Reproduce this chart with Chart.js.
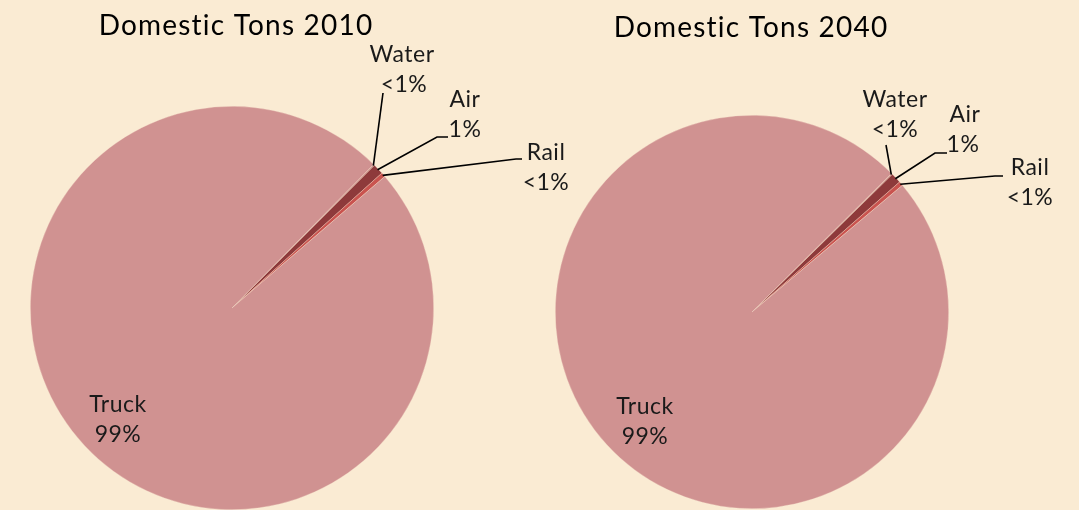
<!DOCTYPE html>
<html lang="en">
<head>
    <meta charset="UTF-8">
    <title>Domestic Tons</title>
    <script src="https://cdn.jsdelivr.net/npm/chart.js"></script>
    <style>
        body { margin: 0; background: #faebd3; }
        #wrap { position: relative; width: 1079px; height: 510px; overflow: hidden; }
        .box { position: absolute; top: 0; height: 510px; }
    </style>
</head>
<body>
<div id="wrap">
    <div class="box" style="left:0;width:620px"><canvas id="pie2010"></canvas></div>
    <div class="box" style="left:540px;width:539px"><canvas id="pie2040"></canvas></div>
</div>
<script>
    // modes, in drawing order (clockwise from the start angle)
    const modes = ['Water', 'Air', 'Rail', 'Truck'];
    const share2010 = [0.1, 0.85, 0.35, 98.7];
    const share2040 = [0.1, 0.85, 0.35, 98.7];
    const labels2010 = ['<1%', '1%', '<1%', '99%'];
    const labels2040 = ['<1%', '1%', '<1%', '99%'];
    const colors = ['#c98a86', '#8e3a3b', '#c9534f', '#d09291'];

    // leader line layout, offsets from the pie centre
    const callouts2010 = [
        { elbow: null, end: [151, -215], text: [170, -253], pct: [172, -223] },
        { elbow: [205, -171], end: [216, -171], text: [233, -208], pct: [233, -178] },
        { elbow: [284, -149], end: [290, -149], text: [314, -155], pct: [314, -125] },
        { inside: true, text: [-114, 97], pct: [-114, 127] }
    ];
    const callouts2040 = [
        { elbow: null, end: [134, -167], text: [143, -212], pct: [143, -182] },
        { elbow: [183, -159], end: [195, -159], text: [213, -197], pct: [211, -167] },
        { elbow: [243, -136], end: [251, -136], text: [278, -144], pct: [278, -114] },
        { inside: true, text: [-107, 95], pct: [-107, 125] }
    ];

    const calloutPlugin = {
        id: 'callouts',
        afterDraw(chart, args, opts) {
            const ctx = chart.ctx;
            const arcs = chart.getDatasetMeta(0).data;
            const cx = arcs[0].x, cy = arcs[0].y;
            ctx.save();
            ctx.font = '23px Lato';
            ctx.letterSpacing = '0.5px';
            ctx.fillStyle = '#1a1a1a';
            ctx.strokeStyle = '#000';
            ctx.lineWidth = 1.6;
            ctx.textAlign = 'center';
            ctx.textBaseline = 'middle';
            opts.items.forEach((c, i) => {
                if (!c.inside) {
                    const a = arcs[i];
                    const mid = (a.startAngle + a.endAngle) / 2;
                    const sx = cx + Math.cos(mid) * (a.outerRadius - 1);
                    const sy = cy + Math.sin(mid) * (a.outerRadius - 1);
                    ctx.beginPath();
                    ctx.moveTo(sx, sy);
                    if (c.elbow) ctx.lineTo(cx + c.elbow[0], cy + c.elbow[1]);
                    ctx.lineTo(cx + c.end[0], cy + c.end[1]);
                    ctx.stroke();
                }
                ctx.fillText(modes[i], cx + c.text[0], cy + c.text[1]);
                ctx.fillText(opts.pcts[i], cx + c.pct[0], cy + c.pct[1]);
            });
            ctx.font = '28px Lato';
            ctx.letterSpacing = '1.2px';
            ctx.fillStyle = '#000';
            ctx.fillText(opts.title, cx + opts.titleOffset[0], opts.titleOffset[1]);
            ctx.restore();
        }
    };

    function makePie(id, values, pcts, items, rotation, padding, title, titleOffset) {
        return new Chart(document.getElementById(id), {
            type: 'pie',
            data: {
                labels: modes,
                datasets: [{
                    data: values,
                    backgroundColor: colors,
                    borderColor: 'rgba(250,235,211,0.5)',
                    borderWidth: 0.6
                }]
            },
            options: {
                responsive: true,
                maintainAspectRatio: false,
                animation: false,
                rotation: rotation,
                layout: { padding: padding },
                plugins: {
                    legend: { display: false },
                    tooltip: { enabled: false },
                    callouts: { items: items, pcts: pcts, title: title, titleOffset: titleOffset }
                }
            },
            plugins: [calloutPlugin]
        });
    }

    makePie('pie2010', share2010, labels2010, callouts2010, 44.6,
        { left: 30, right: 186, top: 106, bottom: 0 }, 'Domestic Tons 2010', [4, 26]);
    makePie('pie2040', share2040, labels2040, callouts2040, 45.2,
        { left: 15, right: 130, top: 115, bottom: 1 }, 'Domestic Tons 2040', [-1, 28]);
</script>
</body>
</html>
